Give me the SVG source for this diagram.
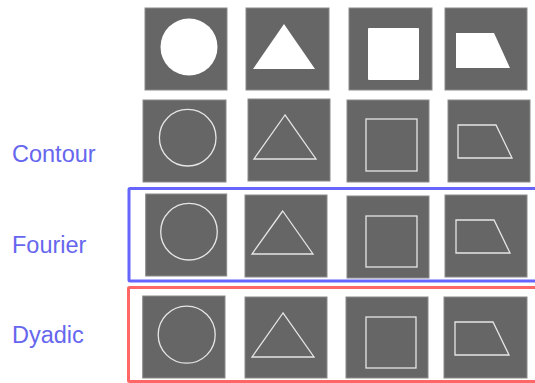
<svg xmlns="http://www.w3.org/2000/svg" width="535" height="383" viewBox="0 0 535 383">
<style>
.box{fill:#666666;stroke:#8a8a8a;stroke-width:1}
.solid{fill:#ffffff;stroke:none}
.line{fill:none;stroke:#e6e6e6;stroke-width:1.3}
.lbl{font-family:"Liberation Sans",Arial,sans-serif;font-size:23.5px;fill:#6666ee}
.frame{fill:none;stroke-width:3}
</style>
<rect width="535" height="383" fill="#ffffff"/>
<g id="labels">
<text class="lbl" x="12" y="162.3">Contour</text>
<text class="lbl" x="12" y="252.7">Fourier</text>
<text class="lbl" x="12" y="343">Dyadic</text>
</g>
<g id="row-original">
<g id="orig-circle"><rect class="box" x="145" y="8" width="82" height="82"/><circle class="solid" cx="189" cy="47" r="28.5"/></g>
<g id="orig-triangle"><rect class="box" x="246" y="8" width="83" height="82"/><polygon class="solid" points="284,24 253,69 315,69"/></g>
<g id="orig-square"><rect class="box" x="349" y="8" width="83" height="82"/><rect class="solid" x="368" y="28" width="51" height="52" rx="1"/></g>
<g id="orig-trapezoid"><rect class="box" x="445" y="8" width="82" height="82"/><polygon class="solid" points="456,33 494,33 510,68 456,68"/></g>
</g>
<g id="row-contour">
<g id="contour-circle"><rect class="box" x="143" y="100" width="83" height="82"/><circle class="line" cx="187.7" cy="137.7" r="28.3"/></g>
<g id="contour-triangle"><rect class="box" x="248" y="99" width="82" height="82"/><polygon class="line" points="285,115 254,159 316,159"/></g>
<g id="contour-square"><rect class="box" x="347" y="100" width="82" height="82"/><rect class="line" x="366" y="119" width="51" height="52"/></g>
<g id="contour-trapezoid"><rect class="box" x="448" y="100" width="82" height="82"/><polygon class="line" points="458,125 496,125 512,158 458,158"/></g>
</g>
<g id="row-fourier">
<g id="fourier-circle"><rect class="box" x="145.7" y="194" width="81" height="82"/><circle class="line" cx="189" cy="231.7" r="28.3"/></g>
<g id="fourier-triangle"><rect class="box" x="245" y="195" width="82" height="82"/><polygon class="line" points="282.7,211 252,254 313,254"/></g>
<g id="fourier-square"><rect class="box" x="347" y="196" width="82" height="82"/><rect class="line" x="366" y="216" width="51" height="51"/></g>
<g id="fourier-trapezoid"><rect class="box" x="445" y="195" width="82" height="82"/><polygon class="line" points="456,220 494,220 510,253 456,253"/></g>
</g>
<g id="row-dyadic">
<g id="dyadic-circle"><rect class="box" x="142.7" y="296" width="82.3" height="82"/><circle class="line" cx="186.7" cy="334.7" r="28.5"/></g>
<g id="dyadic-triangle"><rect class="box" x="245" y="297" width="82" height="81"/><polygon class="line" points="283,313 252,357 314,357"/></g>
<g id="dyadic-square"><rect class="box" x="346" y="297" width="82" height="81"/><rect class="line" x="366" y="317" width="50" height="51"/></g>
<g id="dyadic-trapezoid"><rect class="box" x="444" y="297" width="83" height="81"/><polygon class="line" points="455,322 493,322 509,355 455,355"/></g>
</g>
<g id="connectors">
<rect id="fourier-frame" class="frame" x="129" y="188.5" width="420" height="92.5" stroke="#6666ff" rx="1"/>
<rect id="dyadic-frame" class="frame" x="128.5" y="287.5" width="420" height="94" stroke="#ff6666" stroke-width="2.5" rx="1"/>
</g>
</svg>
